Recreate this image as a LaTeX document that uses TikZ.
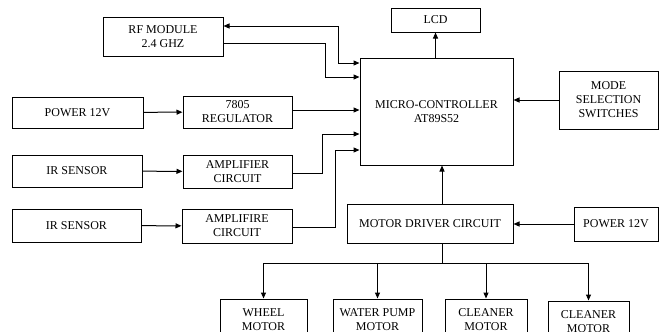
\documentclass[tikz,border=0pt]{standalone}
\usepackage{fontspec}
\setmainfont{Liberation Serif}
\usetikzlibrary{arrows.meta,calc}

\tikzset{
  blk/.style={draw, line width=1pt, inner sep=0pt, align=center,
    font=\fontsize{12}{14}\selectfont},
  wire/.style={line width=1pt},
}

\begin{document}
\begin{tikzpicture}[x=1pt,y=-1pt,>={Triangle[length=6pt,width=5pt]}]
\useasboundingbox (0,0) rectangle (659,332);
\clip (0,0) rectangle (659,332);
% blocks
\node[blk,minimum width=120,minimum height=39] (rf) at (163,36.5) {RF MODULE\\2.4 GHZ};
\node[blk,minimum width=89,minimum height=24] (lcd) at (435.5,20) {LCD};
\node[blk,minimum width=153,minimum height=107] (mc) at (436.5,111.5) {MICRO-CONTROLLER\\AT89S52};
\node[blk,minimum width=99,minimum height=58] (mode) at (608.5,100) {MODE\\SELECTION\\SWITCHES};
\node[blk,minimum width=131,minimum height=31] (pwr1) at (77.5,112.5) {POWER 12V};
\node[blk,minimum width=109,minimum height=32] (reg) at (237.5,112) {7805\\REGULATOR};
\node[blk,minimum width=130,minimum height=32] (irs1) at (77,171) {IR SENSOR};
\node[blk,minimum width=109,minimum height=33] (amp1) at (237.5,171.5) {AMPLIFIER\\CIRCUIT};
\node[blk,minimum width=129,minimum height=33] (irs2) at (76.5,225.5) {IR SENSOR};
\node[blk,minimum width=110,minimum height=34] (amp2) at (237,226) {AMPLIFIRE\\CIRCUIT};
\node[blk,minimum width=166,minimum height=39] (md) at (430,223.5) {MOTOR DRIVER CIRCUIT};
\node[blk,minimum width=84,minimum height=34] (pwr2) at (616,224) {POWER 12V};
% motors
\node[blk,minimum width=87,minimum height=42] (wheel) at (263.5,320) {WHEEL\\MOTOR};
\node[blk,minimum width=89,minimum height=42] (pump) at (377.5,320) {WATER PUMP\\MOTOR};
\node[blk,minimum width=82,minimum height=42] (cln1) at (486,320) {CLEANER\\MOTOR};
\node[blk,minimum width=81,minimum height=42] (cln2) at (588.5,322) {CLEANER\\MOTOR};
% inputs to controller
\draw[wire,<->] ([yshift=10.5pt]rf.east) -| (338,63) -- ([yshift=48.5pt]mc.west);
\draw[wire,->] ([yshift=-6.5pt]rf.east) -| (325,77) -- ([yshift=34.5pt]mc.west);
\draw[wire,->] (pwr1) -- (reg);
\draw[wire,->] ([yshift=2pt]reg.east) -- ([yshift=2pt]reg.east -| mc.west);
\draw[wire,->] (irs1) -- (amp1);
\draw[wire,->] ([yshift=-1.5pt]amp1.east) -| (322,134) -- ([yshift=-22.5pt]mc.west);
\draw[wire,->] (irs2) -- (amp2);
\draw[wire,->] ([yshift=-1pt]amp2.east) -| (335,150) -- ([yshift=-38.5pt]mc.west);
\draw[wire,->] (mode.west) -- (mode.west -| mc.east);
\draw[wire,->] (lcd.south |- mc.north) -- (lcd.south);
\draw[wire,->] ([xshift=12pt]md.north) -- ([xshift=12pt]md.north |- mc.south);
\draw[wire,->] (pwr2.west) -- (pwr2.west -| md.east);
% driver outputs
\coordinate (bus) at (442,263);
\draw[wire] ([xshift=12pt]md.south) -- (bus);
\draw[wire] (wheel.north |- bus) -- (cln2.north |- bus);
\draw[wire,->] (wheel.north |- bus) -- (wheel.north);
\draw[wire,->] (pump.north |- bus) -- (pump.north);
\draw[wire,->] (cln1.north |- bus) -- (cln1.north);
\draw[wire,->] (cln2.north |- bus) -- (cln2.north);
\end{tikzpicture}
\end{document}
